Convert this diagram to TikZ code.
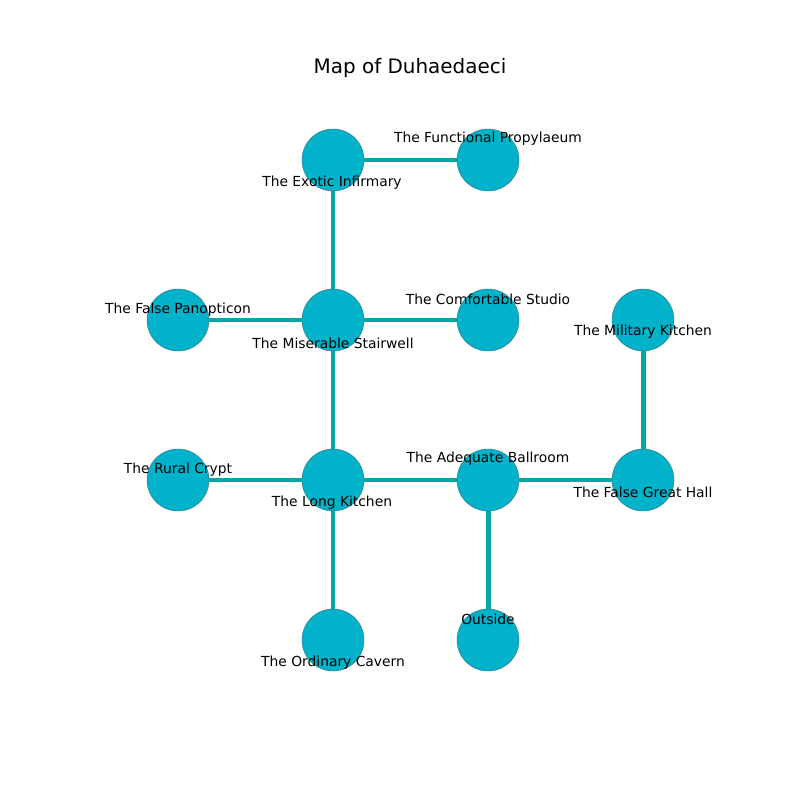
\documentclass[tikz,border=0pt]{standalone}
\usepackage{fontspec}
\setmainfont{DejaVu Sans}
\definecolor{nodefill}{RGB}{0,178,202}
\definecolor{edgecol}{RGB}{0,168,168}
\definecolor{rimcol}{RGB}{60,110,120}
\begin{document}
\begin{tikzpicture}[x=0.01in,y=-0.01in,
  room/.style={circle,fill=nodefill,draw=rimcol,line width=0.3pt,minimum size=0.62in,inner sep=0pt},
  link/.style={edgecol,line width=3.6pt},
  lbl/.style={font=\fontsize{10}{12}\selectfont,inner sep=0pt,text=black}]
\useasboundingbox (0,0) rectangle (800,800);
\node[font=\fontsize{14.4}{17}\selectfont,inner sep=0pt] (title) at (410,68) {Map of Duhaedaeci};
\coordinate (pEI) at (333,160);
\coordinate (pFP) at (488,160);
\coordinate (pFPa) at (178,320);
\coordinate (pMS) at (333,320);
\coordinate (pCS) at (488,320);
\coordinate (pMK) at (643,320);
\coordinate (pRC) at (178,480);
\coordinate (pLK) at (333,480);
\coordinate (pAB) at (488,480);
\coordinate (pGH) at (643,480);
\coordinate (pOC) at (333,640);
\coordinate (pOU) at (488,640);
\draw[link] (pEI) -- (pFP);
\draw[link] (pEI) -- (pMS);
\draw[link] (pFPa) -- (pMS);
\draw[link] (pMS) -- (pCS);
\draw[link] (pMS) -- (pLK);
\draw[link] (pMK) -- (pGH);
\draw[link] (pRC) -- (pLK);
\draw[link] (pLK) -- (pAB);
\draw[link] (pAB) -- (pGH);
\draw[link] (pLK) -- (pOC);
\draw[link] (pAB) -- (pOU);
\node[room] (EI) at (pEI) {};
\node[room] (FP) at (pFP) {};
\node[room] (FPa) at (pFPa) {};
\node[room] (MS) at (pMS) {};
\node[room] (CS) at (pCS) {};
\node[room] (MK) at (pMK) {};
\node[room] (RC) at (pRC) {};
\node[room] (LK) at (pLK) {};
\node[room] (AB) at (pAB) {};
\node[room] (GH) at (pGH) {};
\node[room] (OC) at (pOC) {};
\node[room] (OU) at (pOU) {};
\node[lbl] (tEI) at (332,183) {The Exotic Infirmary};
\node[lbl] (tFP) at (488,139) {The Functional Propylaeum};
\node[lbl] (tFPa) at (178,310) {The False Panopticon};
\node[lbl] (tMS) at (333,343) {The Miserable Stairwell};
\node[lbl] (tCS) at (488,299) {The Comfortable Studio};
\node[lbl] (tMK) at (643,332) {The Military Kitchen};
\node[lbl] (tRC) at (178,470) {The Rural Crypt};
\node[lbl] (tLK) at (332,503) {The Long Kitchen};
\node[lbl] (tAB) at (488,459) {The Adequate Ballroom};
\node[lbl] (tGH) at (643,492) {The False Great Hall};
\node[lbl] (tOC) at (333,663) {The Ordinary Cavern};
\node[lbl] (tOU) at (488,619) {Outside};
\end{tikzpicture}
\end{document}
